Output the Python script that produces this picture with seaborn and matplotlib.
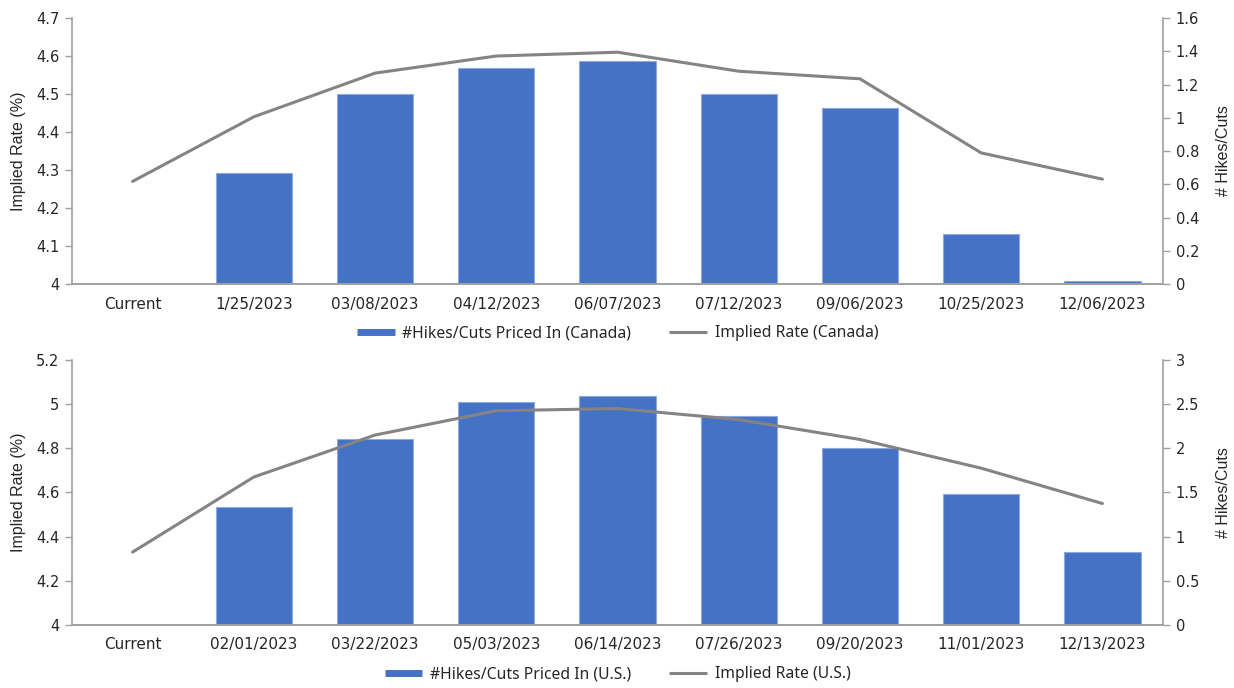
import numpy as np
import pandas as pd
import matplotlib
matplotlib.use("Agg")
import matplotlib.pyplot as plt
from matplotlib.lines import Line2D
from matplotlib.ticker import FixedLocator, FuncFormatter
import seaborn as sns

# Canada: BoC meeting dates
ca_dates = ["Current", "1/25/2023", "03/08/2023", "04/12/2023", "06/07/2023",
            "07/12/2023", "09/06/2023", "10/25/2023", "12/06/2023"]
ca_rate = [4.27, 4.44, 4.555, 4.60, 4.61, 4.56, 4.54, 4.345, 4.276]
ca_hikes = [np.nan, 0.67, 1.14, 1.30, 1.34, 1.14, 1.06, 0.30, 0.02]

# U.S.: FOMC meeting dates
us_dates = ["Current", "02/01/2023", "03/22/2023", "05/03/2023", "06/14/2023",
            "07/26/2023", "09/20/2023", "11/01/2023", "12/13/2023"]
us_rate = [4.33, 4.67, 4.86, 4.97, 4.98, 4.93, 4.84, 4.71, 4.55]
us_hikes = [np.nan, 1.33, 2.10, 2.52, 2.59, 2.37, 2.00, 1.48, 0.83]

BAR = "#4472C4"
LINE = "#848484"
SPINE = "#a0a0a0"
TXT = "#262626"

sns.set_theme(style="white")
plt.rcParams["font.family"] = ["Noto Sans", "DejaVu Sans"]

TICK_FONT = "DejaVu Sans"
LABEL_FONT = ["Liberation Sans", "DejaVu Sans"]


def fmt(v, _):
    return f"{v:.2f}".rstrip("0").rstrip(".")


def panel(fig, rect, dates, rate, hikes, ylim_l, step_l, ylim_r, step_r, region):
    ax = fig.add_axes(rect)
    ax2 = ax.twinx()
    df = pd.DataFrame({"date": dates, "rate": rate, "hikes": hikes})

    # bars on the right-hand axis, implied-rate line on the left-hand axis
    sns.barplot(data=df, x="date", y="hikes", order=dates, ax=ax2, color=BAR,
                saturation=1, width=0.63, edgecolor="#8fa9dc", linewidth=0.8,
                errorbar=None)
    sns.lineplot(x=np.arange(len(dates)), y=df["rate"], ax=ax, color=LINE,
                 linewidth=2.2, sort=False)

    ax.set_zorder(ax2.get_zorder() + 1)
    ax.patch.set_visible(False)

    n = len(dates)
    ax.set_xlim(-0.5, n - 0.5)
    ax.set_ylim(*ylim_l)
    ax2.set_ylim(*ylim_r)
    ax.yaxis.set_major_locator(FixedLocator(np.arange(ylim_l[0], ylim_l[1] + 1e-9, step_l)))
    ax2.yaxis.set_major_locator(FixedLocator(np.arange(ylim_r[0], ylim_r[1] + 1e-9, step_r)))
    ax.yaxis.set_major_formatter(FuncFormatter(fmt))
    ax2.yaxis.set_major_formatter(FuncFormatter(fmt))

    ax.set_xticks(np.arange(n))
    ax.set_xticklabels(dates)
    ax.set_xticks(np.arange(-0.5, n, 1.0), minor=True)
    ax.tick_params(axis="x", which="major", length=0, pad=9, colors=TXT,
                   labelsize=11, labelfontfamily=TICK_FONT)
    ax.tick_params(axis="x", which="minor", length=5, width=1.2, color=SPINE, direction="out")
    ax.tick_params(axis="y", length=5, width=1, color=SPINE, left=True, colors=TXT, pad=4,
                   labelsize=10.5, labelfontfamily=TICK_FONT)
    ax2.tick_params(axis="y", length=5, width=1, color=SPINE, right=True, colors=TXT, pad=4,
                    labelsize=10.5, labelfontfamily=TICK_FONT)

    for a in (ax, ax2):
        a.set_xlabel("")
        for s in a.spines.values():
            s.set_color(SPINE)
            s.set_linewidth(1.2)
        a.spines["top"].set_visible(False)
        a.grid(False)
    ax.spines["right"].set_visible(False)
    ax2.spines["left"].set_visible(False)

    ax.set_ylabel("Implied Rate (%)", labelpad=7, fontsize=11.5, color=TXT,
                  family=LABEL_FONT)
    ax2.set_ylabel("# Hikes/Cuts", labelpad=12, fontsize=11.5, color=TXT,
                   family=LABEL_FONT)

    handles = [Line2D([], [], color=BAR, linewidth=5, solid_capstyle="butt"),
               Line2D([], [], color=LINE, linewidth=2.2, solid_capstyle="butt")]
    labels = [f"#Hikes/Cuts Priced In ({region})", f"Implied Rate ({region})"]
    ax.legend(handles, labels, loc="center", bbox_to_anchor=(0.5, -0.185), ncol=2,
              frameon=False, fontsize=11.3, handlelength=2.4, handletextpad=0.5,
              columnspacing=2.4, labelcolor=TXT)
    return ax, ax2


fig = plt.figure(figsize=(12.34, 6.88), dpi=100)
panel(fig, [0.0583, 0.5872, 0.8842, 0.3866], ca_dates, ca_rate, ca_hikes,
      (4.0, 4.7), 0.1, (0.0, 1.6), 0.2, "Canada")
panel(fig, [0.0583, 0.0916, 0.8842, 0.3852], us_dates, us_rate, us_hikes,
      (4.0, 5.2), 0.2, (0.0, 3.0), 0.5, "U.S.")

fig.savefig("out.png", dpi=100, facecolor="white")
